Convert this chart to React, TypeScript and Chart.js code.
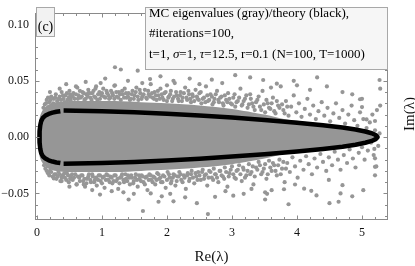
import React, { useEffect, useRef } from "react";
import { Chart, registerables } from "chart.js";

Chart.register(...registerables);

// ---- tick labels ----
const xTickValues = [0, 1, 2, 3, 4, 5];
const xTickLabels = ["0", "1", "2", "3", "4", "5"];
const yTickValues = [-0.05, 0, 0.05, 0.1];
const yTickLabels = ["\u22120.05", "0.00", "0.05", "0.10"];

// ---- theory curve (black) ----
const theoryArcRe = [0.36, 0.3, 0.24, 0.18, 0.13, 0.09, 0.065, 0.05, 0.042, 0.04, 0.042, 0.05, 0.065, 0.09, 0.13, 0.18, 0.24, 0.3, 0.36];
const theoryArcIm = [-0.023, -0.0225, -0.0217, -0.0206, -0.0191, -0.017, -0.0142, -0.0102, -0.0052, 0, 0.0052, 0.0102, 0.0142, 0.017, 0.0191, 0.0206, 0.0217, 0.0225, 0.023];
const theoryBranchRe = [0.41, 0.6, 0.8, 1.0, 1.5, 2.0, 2.5, 3.0, 3.5, 4.0, 4.4, 4.7, 4.9, 5.05, 5.15, 5.21, 5.24];
const theoryBranchIm = [0.0236, 0.0235, 0.0232, 0.0229, 0.0221, 0.0208, 0.0192, 0.0173, 0.0152, 0.0128, 0.0106, 0.0086, 0.0068, 0.005, 0.0034, 0.0018, 0];

// ---- dense core of MC eigenvalue cloud (gray) ----
const coreRe = [0.0, 0.02, 0.05, 0.1, 0.18, 0.3, 0.5, 0.8, 1.2, 1.6, 2.0, 2.5, 3.0, 3.5, 3.8, 4.2, 4.6, 4.9, 5.1, 5.25];
const coreUpper = [0, 0.01, 0.019, 0.025, 0.029, 0.031, 0.032, 0.032, 0.032, 0.031, 0.03, 0.028, 0.025, 0.02, 0.016, 0.013, 0.01, 0.007, 0.004, 0];
const coreLower = [0, -0.01, -0.019, -0.024, -0.028, -0.03, -0.031, -0.031, -0.031, -0.03, -0.029, -0.027, -0.024, -0.019, -0.015, -0.012, -0.009, -0.006, -0.003, 0];

// ---- individual MC eigenvalues [Re, Im] ----
const mcUpperBand: [number, number][] = [
  [0.12, 0.029], [0.15, 0.033], [0.19, 0.031], [0.22, 0.036], [0.26, 0.034], [0.29, 0.038], [0.31, 0.032], [0.35, 0.036],
  [0.38, 0.04], [0.41, 0.034], [0.44, 0.037], [0.47, 0.033], [0.5, 0.041], [0.53, 0.036], [0.56, 0.039], [0.58, 0.034],
  [0.62, 0.044], [0.64, 0.037], [0.67, 0.035], [0.7, 0.04], [0.73, 0.033], [0.76, 0.038], [0.79, 0.042], [0.82, 0.035],
  [0.85, 0.039], [0.88, 0.036], [0.91, 0.045], [0.93, 0.033], [0.96, 0.04], [0.99, 0.037], [1.02, 0.043], [1.05, 0.035],
  [1.08, 0.039], [1.11, 0.034], [1.14, 0.041], [1.17, 0.037], [1.2, 0.046], [1.23, 0.036], [1.26, 0.04], [1.29, 0.033],
  [1.32, 0.038], [1.35, 0.043], [1.38, 0.035], [1.41, 0.039], [1.44, 0.034], [1.47, 0.041], [1.5, 0.037], [1.53, 0.044],
  [1.56, 0.033], [1.59, 0.039], [1.62, 0.036], [1.66, 0.042], [1.69, 0.034], [1.72, 0.038], [1.75, 0.047], [1.78, 0.035],
  [1.81, 0.04], [1.84, 0.033], [1.87, 0.037], [1.9, 0.043], [1.93, 0.035], [1.96, 0.039], [2.0, 0.032], [2.03, 0.036],
  [2.06, 0.041], [2.09, 0.034], [2.12, 0.048], [2.15, 0.037], [2.18, 0.032], [2.21, 0.04], [2.24, 0.035], [2.28, 0.044],
  [2.31, 0.033], [2.34, 0.038], [2.37, 0.031], [2.4, 0.036], [2.44, 0.042], [2.47, 0.034], [2.5, 0.039], [2.53, 0.03],
  [2.57, 0.035], [2.6, 0.045], [2.63, 0.032], [2.67, 0.038], [2.7, 0.029], [2.73, 0.034], [2.77, 0.041], [2.8, 0.031],
  [2.84, 0.036], [2.87, 0.028], [2.91, 0.033], [2.94, 0.039], [2.98, 0.03], [3.02, 0.035], [3.05, 0.027], [3.09, 0.032],
  [3.13, 0.043], [3.16, 0.029], [3.2, 0.034], [3.24, 0.026], [3.28, 0.038], [3.31, 0.03], [3.35, 0.024], [3.39, 0.033],
  [3.43, 0.027], [3.47, 0.041], [3.51, 0.022], [3.55, 0.03], [3.59, 0.025], [3.63, 0.035], [3.67, 0.021], [3.71, 0.028],
  [3.75, 0.045], [3.79, 0.024], [3.83, 0.032], [3.87, 0.019], [3.91, 0.027], [3.95, 0.037], [3.99, 0.022], [4.03, 0.03],
  [4.07, 0.018], [4.12, 0.025], [4.16, 0.034], [4.2, 0.02], [4.25, 0.028], [4.29, 0.016], [4.33, 0.023], [4.38, 0.031],
  [4.42, 0.019], [4.47, 0.026], [4.51, 0.014], [4.56, 0.021], [4.6, 0.03], [4.65, 0.017], [4.7, 0.024], [4.74, 0.012],
  [4.79, 0.02], [4.84, 0.028], [4.88, 0.015], [4.93, 0.01], [4.97, 0.022], [5.02, 0.016], [5.07, 0.008], [5.12, 0.013],
  [5.16, 0.02], [5.2, 0.006], [5.23, 0.024],
];

const mcUpperBand2: [number, number][] = [
  [0.1, 0.026], [0.14, 0.03], [0.17, 0.035], [0.21, 0.033], [0.25, 0.03], [0.28, 0.035], [0.33, 0.034], [0.37, 0.033],
  [0.4, 0.037], [0.43, 0.031], [0.46, 0.039], [0.49, 0.035], [0.52, 0.033], [0.55, 0.036], [0.6, 0.038], [0.63, 0.034],
  [0.66, 0.041], [0.69, 0.036], [0.72, 0.039], [0.75, 0.034], [0.78, 0.036], [0.81, 0.039], [0.84, 0.033], [0.87, 0.041],
  [0.9, 0.035], [0.94, 0.038], [0.97, 0.034], [1.0, 0.039], [1.03, 0.036], [1.07, 0.041], [1.1, 0.037], [1.13, 0.035],
  [1.16, 0.039], [1.19, 0.034], [1.22, 0.04], [1.25, 0.035], [1.28, 0.038], [1.31, 0.041], [1.34, 0.035], [1.37, 0.039],
  [1.4, 0.036], [1.43, 0.033], [1.46, 0.038], [1.49, 0.034], [1.52, 0.04], [1.55, 0.036], [1.58, 0.042], [1.61, 0.034],
  [1.64, 0.038], [1.68, 0.035], [1.71, 0.041], [1.74, 0.036], [1.77, 0.039], [1.8, 0.034], [1.83, 0.037], [1.86, 0.041],
  [1.89, 0.034], [1.92, 0.038], [1.95, 0.033], [1.98, 0.04], [2.02, 0.035], [2.05, 0.038], [2.08, 0.032], [2.11, 0.036],
  [2.14, 0.04], [2.17, 0.034], [2.2, 0.037], [2.23, 0.032], [2.26, 0.039], [2.3, 0.035], [2.33, 0.041], [2.36, 0.034],
  [2.39, 0.038], [2.42, 0.032], [2.46, 0.036], [2.49, 0.033], [2.52, 0.04], [2.55, 0.034], [2.59, 0.031], [2.62, 0.037],
  [2.65, 0.033], [2.69, 0.036], [2.72, 0.031], [2.75, 0.038], [2.79, 0.033], [2.82, 0.035], [2.86, 0.03], [2.89, 0.037],
  [2.93, 0.031], [2.96, 0.034], [3.0, 0.029], [3.04, 0.038], [3.07, 0.031], [3.11, 0.035], [3.15, 0.028], [3.18, 0.032],
  [3.22, 0.037], [3.26, 0.029], [3.29, 0.034], [3.33, 0.027], [3.37, 0.031], [3.41, 0.036], [3.45, 0.024], [3.49, 0.029],
  [3.53, 0.033], [3.57, 0.026], [3.61, 0.03], [3.65, 0.023], [3.69, 0.032], [3.73, 0.026], [3.77, 0.029], [3.81, 0.021],
  [3.85, 0.027],
];

const mcLowerBand: [number, number][] = [
  [0.13, -0.028], [0.17, -0.032], [0.2, -0.03], [0.24, -0.035], [0.27, -0.033], [0.3, -0.037], [0.33, -0.031], [0.36, -0.039],
  [0.4, -0.034], [0.43, -0.036], [0.46, -0.032], [0.49, -0.04], [0.52, -0.035], [0.55, -0.038], [0.59, -0.033], [0.61, -0.042],
  [0.65, -0.036], [0.68, -0.034], [0.71, -0.039], [0.74, -0.044], [0.77, -0.037], [0.8, -0.033], [0.83, -0.04], [0.86, -0.035],
  [0.89, -0.038], [0.92, -0.043], [0.95, -0.034], [0.98, -0.039], [1.01, -0.036], [1.04, -0.045], [1.07, -0.033], [1.1, -0.038],
  [1.13, -0.035], [1.16, -0.041], [1.19, -0.034], [1.22, -0.039], [1.25, -0.046], [1.28, -0.036], [1.31, -0.033], [1.34, -0.04],
  [1.37, -0.037], [1.4, -0.034], [1.43, -0.042], [1.46, -0.036], [1.49, -0.039], [1.52, -0.033], [1.55, -0.044], [1.58, -0.037],
  [1.61, -0.034], [1.64, -0.04], [1.67, -0.036], [1.7, -0.047], [1.73, -0.033], [1.76, -0.038], [1.79, -0.035], [1.82, -0.042],
  [1.85, -0.032], [1.88, -0.037], [1.91, -0.04], [1.94, -0.034], [1.98, -0.045], [2.01, -0.031], [2.04, -0.036], [2.07, -0.039],
  [2.1, -0.033], [2.13, -0.043], [2.16, -0.035], [2.19, -0.031], [2.22, -0.038], [2.26, -0.034], [2.29, -0.046], [2.32, -0.032],
  [2.35, -0.037], [2.38, -0.03], [2.42, -0.041], [2.45, -0.035], [2.48, -0.031], [2.52, -0.038], [2.55, -0.029], [2.58, -0.034],
  [2.62, -0.043], [2.65, -0.03], [2.69, -0.036], [2.72, -0.028], [2.75, -0.033], [2.79, -0.04], [2.82, -0.03], [2.86, -0.035],
  [2.89, -0.027], [2.93, -0.044], [2.96, -0.032], [3.0, -0.026], [3.04, -0.036], [3.07, -0.03], [3.11, -0.025], [3.15, -0.039],
  [3.18, -0.029], [3.22, -0.034], [3.26, -0.024], [3.3, -0.031], [3.33, -0.042], [3.37, -0.027], [3.41, -0.022], [3.45, -0.033],
  [3.49, -0.028], [3.53, -0.037], [3.57, -0.021], [3.61, -0.03], [3.65, -0.025], [3.69, -0.034], [3.73, -0.02], [3.77, -0.028],
  [3.81, -0.04], [3.85, -0.023], [3.89, -0.031], [3.93, -0.018], [3.97, -0.026], [4.01, -0.036], [4.05, -0.021], [4.1, -0.029],
  [4.14, -0.017], [4.18, -0.024], [4.23, -0.033], [4.27, -0.019], [4.31, -0.027], [4.36, -0.015], [4.4, -0.022], [4.45, -0.03],
  [4.49, -0.018], [4.54, -0.025], [4.58, -0.013], [4.63, -0.02], [4.67, -0.029], [4.72, -0.016], [4.77, -0.023], [4.81, -0.011],
  [4.86, -0.019], [4.9, -0.027], [4.95, -0.014], [5.0, -0.009], [5.04, -0.02], [5.09, -0.012], [5.14, -0.005], [5.18, -0.016],
  [5.22, -0.026],
];

const mcLowerBand2: [number, number][] = [
  [0.11, -0.025], [0.15, -0.03], [0.19, -0.034], [0.22, -0.031], [0.26, -0.036], [0.29, -0.033], [0.32, -0.035], [0.35, -0.033],
  [0.38, -0.036], [0.42, -0.032], [0.45, -0.038], [0.48, -0.034], [0.51, -0.037], [0.54, -0.033], [0.57, -0.036], [0.63, -0.035],
  [0.66, -0.039], [0.7, -0.034], [0.73, -0.037], [0.76, -0.041], [0.79, -0.035], [0.82, -0.038], [0.85, -0.033], [0.88, -0.04],
  [0.91, -0.036], [0.94, -0.038], [0.97, -0.034], [1.0, -0.041], [1.03, -0.035], [1.06, -0.038], [1.09, -0.034], [1.12, -0.04],
  [1.15, -0.036], [1.18, -0.039], [1.21, -0.034], [1.24, -0.037], [1.27, -0.041], [1.3, -0.035], [1.33, -0.038], [1.36, -0.033],
  [1.39, -0.039], [1.42, -0.036], [1.45, -0.034], [1.48, -0.041], [1.51, -0.036], [1.54, -0.038], [1.57, -0.034], [1.6, -0.039],
  [1.63, -0.035], [1.66, -0.042], [1.69, -0.035], [1.72, -0.038], [1.75, -0.034], [1.78, -0.04], [1.81, -0.036], [1.84, -0.038],
  [1.87, -0.033], [1.9, -0.036], [1.93, -0.04], [1.96, -0.035], [2.0, -0.038], [2.03, -0.033], [2.06, -0.041], [2.09, -0.036],
  [2.12, -0.034], [2.15, -0.039], [2.18, -0.035], [2.21, -0.033], [2.24, -0.04], [2.27, -0.036], [2.31, -0.034], [2.34, -0.039],
  [2.37, -0.033], [2.4, -0.036], [2.44, -0.032], [2.47, -0.038], [2.5, -0.034], [2.54, -0.031], [2.57, -0.037], [2.6, -0.033],
  [2.64, -0.036], [2.67, -0.031], [2.71, -0.038], [2.74, -0.033], [2.77, -0.036], [2.81, -0.03], [2.84, -0.034], [2.88, -0.037],
  [2.91, -0.031], [2.95, -0.035], [2.98, -0.029], [3.02, -0.033], [3.06, -0.037], [3.09, -0.029], [3.13, -0.033], [3.17, -0.027],
  [3.2, -0.036], [3.24, -0.03], [3.28, -0.033], [3.32, -0.026], [3.35, -0.035], [3.39, -0.029], [3.43, -0.025], [3.47, -0.031],
  [3.51, -0.024], [3.55, -0.033], [3.59, -0.027], [3.63, -0.023], [3.67, -0.03], [3.71, -0.025], [3.75, -0.033], [3.79, -0.022],
  [3.83, -0.028],
];

const mcOutliers: [number, number][] = [
  [1.2, 0.062], [1.29, 0.06], [1.55, 0.059], [0.6, 0.045], [0.9, 0.043], [1.19, 0.0455], [1.74, 0.0515], [2.1, 0.05],
  [2.69, 0.051], [3.28, 0.053], [3.48, 0.0507], [4.31, 0.053], [5.28, 0.043], [3.69, 0.0474], [4.0, 0.046], [4.46, 0.045],
  [5.27, 0.0507], [5.28, 0.028], [5.2, 0.0143], [5.27, 0.0033], [0.45, 0.047], [0.75, 0.049], [1.05, 0.052], [1.4, 0.05],
  [1.9, 0.054], [2.35, 0.052], [2.85, 0.048], [3.05, 0.055], [3.95, 0.05], [4.7, 0.04], [5.0, 0.034], [4.85, 0.038],
  [0.35, 0.043], [0.2, 0.04], [1.62, 0.048], [2.5, 0.047], [3.6, 0.044], [4.2, 0.042], [2.0, 0.046], [0.98, 0.048],
  [5.07, 0.0157], [5.0, 0.0267], [4.97, 0.0336], [0.51, 0.0377], [0.79, 0.039],
  [0.97, -0.051], [1.41, -0.0554], [0.26, -0.0367], [0.38, -0.039], [0.61, -0.042], [0.72, -0.042], [1.33, -0.049],
  [1.63, -0.0656], [2.63, -0.0683], [1.49, -0.0504], [1.87, -0.0574], [2.1, -0.057], [2.46, -0.0587], [2.74, -0.053],
  [3.02, -0.052], [3.18, -0.0504], [3.54, -0.0504], [2.28, -0.0535], [2.05, -0.0504], [1.92, -0.0526], [3.87, -0.0596],
  [4.5, -0.0587], [4.64, -0.0574], [4.85, -0.0526], [5.02, -0.0471], [4.67, -0.05], [4.3, -0.0518], [4.11, -0.0458],
  [4.22, -0.0477], [3.51, -0.049], [3.51, -0.0554], [3.61, -0.0471], [3.8, -0.0463], [5.2, -0.0339], [4.7, -0.0427],
  [4.49, -0.038], [3.97, -0.0421], [5.25, -0.0078], [5.13, -0.0022], [5.19, -0.0105], [5.2, -0.0188], [5.2, -0.0264],
  [1.15, -0.048], [0.85, -0.047], [0.5, -0.044], [1.75, -0.05], [2.9, -0.048], [3.3, -0.046],
];

const legendLines: [string, boolean][][] = [
  [["MC eigenvalues (gray)/theory (black),", false]],
  [["#iterations=100,", false]],
  [["t=1, ", false], ["\u03c3", true], ["=1, ", false], ["\u03c4", true], ["=12.5, r=0.1 (N=100, T=1000)", false]],
];

const SERIF = "'Liberation Serif', 'DejaVu Serif', serif";
const GRAY = "rgb(150,150,150)";

const framePlugin = {
  id: "mmaFrame",
  afterDraw(chart: any) {
    const { ctx, chartArea: a, scales } = chart;
    const xs = scales.x;
    const ys = scales.y;
    const L = Math.round(a.left) + 0.5;
    const R = Math.round(a.right) - 0.5;
    const T = Math.round(a.top) + 0.5;
    const B = Math.round(a.bottom) - 0.5;
    ctx.save();
    ctx.strokeStyle = "#8a8a8a";
    ctx.lineWidth = 1;
    ctx.strokeRect(L, T, R - L, B - T);
    ctx.beginPath();
    for (let k = 0; k <= 27; k++) {
      const v = k * 0.2;
      const major = k % 5 === 0;
      const len = major ? 4 : 2.5;
      const px = Math.round(xs.getPixelForValue(v)) + 0.5;
      if (px < L || px > R) continue;
      ctx.moveTo(px, B);
      ctx.lineTo(px, B - len);
      ctx.moveTo(px, T);
      ctx.lineTo(px, T + len);
    }
    for (let k = -7; k <= 11; k++) {
      const v = k * 0.01;
      const major = k % 5 === 0;
      const len = major ? 4 : 2.5;
      const py = Math.round(ys.getPixelForValue(v)) + 0.5;
      if (py < T || py > B) continue;
      ctx.moveTo(L, py);
      ctx.lineTo(L + len, py);
      ctx.moveTo(R, py);
      ctx.lineTo(R - len, py);
    }
    ctx.stroke();

    // panel label box
    ctx.fillStyle = "#f2f2f2";
    ctx.fillRect(36.5, 7.5, 18, 29);
    ctx.strokeStyle = "#a8a8a8";
    ctx.strokeRect(36.5, 7.5, 18, 29);
    ctx.fillStyle = "#000";
    ctx.font = `14px ${SERIF}`;
    ctx.textAlign = "center";
    ctx.textBaseline = "middle";
    ctx.fillText("(c)", 45.5, 27.5);

    // legend box
    ctx.fillStyle = "#f6f6f6";
    ctx.fillRect(145.5, 7.5, 242, 62);
    ctx.strokeStyle = "#a8a8a8";
    ctx.strokeRect(145.5, 7.5, 242, 62);
    ctx.fillStyle = "#000";
    ctx.textAlign = "left";
    const lineY = [13.5, 34, 54.5];
    legendLines.forEach((segs, i) => {
      let x = 149;
      for (const [txt, italic] of segs) {
        ctx.font = `${italic ? "italic " : ""}13px ${SERIF}`;
        ctx.fillText(txt, x, lineY[i]);
        x += ctx.measureText(txt).width;
      }
    });

    // right frame label
    ctx.save();
    ctx.translate(410, 114);
    ctx.rotate(-Math.PI / 2);
    ctx.font = `15px ${SERIF}`;
    ctx.textAlign = "center";
    ctx.textBaseline = "middle";
    ctx.fillStyle = "#111";
    ctx.fillText("Im(\u03bb)", 0, 0);
    ctx.restore();
    ctx.restore();
  },
};

export default function App() {
  const ref = useRef<HTMLCanvasElement>(null);
  useEffect(() => {
    document.body.style.margin = "0";
    const canvas = ref.current;
    if (!canvas) return;
    const arc = theoryArcRe.map((x, i) => ({ x, y: theoryArcIm[i] }));
    const upper = theoryBranchRe.map((x, i) => ({ x, y: theoryBranchIm[i] }));
    const lower = upper.slice(0, -1).reverse().map((p) => ({ x: p.x, y: -p.y }));
    const loop = [...upper, ...lower];
    const pts = [...mcUpperBand, ...mcUpperBand2, ...mcLowerBand, ...mcLowerBand2, ...mcOutliers].map(([x, y]) => ({ x, y }));
    const coreU = coreRe.map((x, i) => ({ x, y: coreUpper[i] }));
    const coreL = coreRe.map((x, i) => ({ x, y: coreLower[i] }));

    const chart = new Chart(canvas, {
      type: "line",
      data: {
        datasets: [
          { data: arc, borderColor: "#000", borderWidth: 4.5, pointRadius: 0, fill: false, tension: 0, order: 0, borderJoinStyle: "round" } as any,
          { data: loop, borderColor: "#000", borderWidth: 4.5, pointRadius: 0, fill: false, tension: 0, order: 0, borderJoinStyle: "round" } as any,
          { data: pts, showLine: false, pointRadius: 2.1, pointBorderWidth: 0, pointBackgroundColor: GRAY, pointBorderColor: GRAY, order: 1 } as any,
          { data: coreU, borderColor: "transparent", borderWidth: 0, pointRadius: 0, backgroundColor: GRAY, fill: "+1", tension: 0.3, order: 2 } as any,
          { data: coreL, borderColor: "transparent", borderWidth: 0, pointRadius: 0, fill: false, tension: 0.3, order: 2 } as any,
        ],
      },
      options: {
        animation: false,
        responsive: false,
        events: [],
        layout: { padding: { top: 2, right: 27, left: 0, bottom: 0 } },
        plugins: { legend: { display: false }, tooltip: { enabled: false } },
        scales: {
          x: {
            type: "linear",
            min: -0.03,
            max: 5.4,
            grid: { display: false, drawTicks: false },
            border: { display: false },
            afterBuildTicks: (s: any) => {
              s.ticks = xTickValues.map((value) => ({ value }));
            },
            afterFit: (s: any) => {
              s.height = 46;
            },
            ticks: {
              autoSkip: false,
              maxRotation: 0,
              padding: 6,
              color: "#111",
              font: { family: SERIF, size: 12 },
              callback: (_v: any, i: number) => xTickLabels[i],
            },
            title: { display: true, text: "Re(\u03bb)", color: "#111", font: { family: SERIF, size: 15 }, padding: 0 },
          },
          y: {
            type: "linear",
            min: -0.0736,
            max: 0.11,
            grid: { display: false, drawTicks: false },
            border: { display: false },
            afterBuildTicks: (s: any) => {
              s.ticks = yTickValues.map((value) => ({ value }));
            },
            afterFit: (s: any) => {
              s.width = 35;
            },
            ticks: {
              autoSkip: false,
              padding: 6,
              color: "#111",
              font: { family: SERIF, size: 12 },
              callback: (_v: any, i: number) => yTickLabels[i],
            },
          },
        },
      } as any,
      plugins: [framePlugin],
    });
    return () => chart.destroy();
  }, []);
  return <canvas ref={ref} width={415} height={266} style={{ display: "block" }} />;
}
